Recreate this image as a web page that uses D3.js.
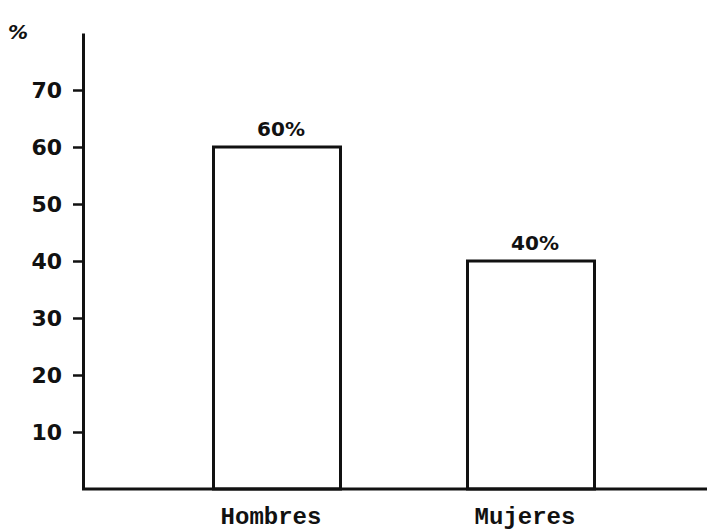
<!DOCTYPE html>
<html>
<head>
<meta charset="utf-8">
<script src="https://cdn.jsdelivr.net/npm/d3@7"></script>
<style>
  body { margin: 0; background: #fff; }
  .tick text { font-family: "DejaVu Sans", sans-serif; font-size: 22px; font-weight: bold; fill: #111; }
  .cat-label { font-family: "Liberation Mono", monospace; font-weight: bold; font-size: 24px; fill: #111; }
  .val-label { font-family: "DejaVu Sans", sans-serif; font-size: 20px; font-weight: bold; fill: #111; }
</style>
</head>
<body>
<div id="chart"></div>
<script>
const categories = ["Hombres", "Mujeres"];
const values = [60, 40];
const valueLabels = ["60%", "40%"];
const yTicks = [10, 20, 30, 40, 50, 60, 70];

const width = 707, height = 532;
const axisX = 83;

const svg = d3.select("#chart")
    .append("svg")
    .attr("width", width)
    .attr("height", height);

const y = d3.scaleLinear()
    .domain([0, 80])
    .range([489, 33]);

const x = d3.scaleBand()
    .domain(categories)
    .range([150, 658])
    .paddingInner(0.5)
    .paddingOuter(0.25);

// y axis
const yAxis = d3.axisLeft(y)
    .tickValues(yTicks)
    .tickSize(10)
    .tickPadding(11)
    .tickSizeOuter(0);

const gy = svg.append("g")
    .attr("transform", `translate(${axisX},0)`)
    .call(yAxis);
gy.select(".domain").attr("stroke", "#111").attr("stroke-width", 3);
gy.selectAll(".tick line").attr("stroke", "#111").attr("stroke-width", 2.5);
gy.selectAll(".tick text").attr("dy", "0.36em");

// unit symbol
svg.append("text")
    .attr("class", "val-label")
    .attr("x", 18)
    .attr("y", 39)
    .attr("text-anchor", "middle")
    .attr("font-style", "italic")
    .attr("font-size", 22)
    .text("%");

// bars
svg.selectAll(".bar")
    .data(values)
    .join("rect")
    .attr("class", "bar")
    .attr("x", (d, i) => x(categories[i]))
    .attr("y", d => y(d))
    .attr("width", x.bandwidth())
    .attr("height", d => y(0) - y(d))
    .attr("fill", "#fff")
    .attr("stroke", "#111")
    .attr("stroke-width", 3);

// baseline
svg.append("line")
    .attr("x1", axisX - 1)
    .attr("x2", width)
    .attr("y1", y(0))
    .attr("y2", y(0))
    .attr("stroke", "#111")
    .attr("stroke-width", 3);

// value labels
svg.selectAll(".val")
    .data(values)
    .join("text")
    .attr("class", "val-label")
    .attr("x", (d, i) => x(categories[i]) + x.bandwidth() / 2 + 4)
    .attr("y", d => y(d) - 11)
    .attr("text-anchor", "middle")
    .text((d, i) => valueLabels[i]);

// category labels
svg.selectAll(".cat")
    .data(categories)
    .join("text")
    .attr("class", "cat-label")
    .attr("x", d => x(d) + x.bandwidth() / 2 - 6)
    .attr("y", 524)
    .attr("text-anchor", "middle")
    .text(d => d);
</script>
</body>
</html>
